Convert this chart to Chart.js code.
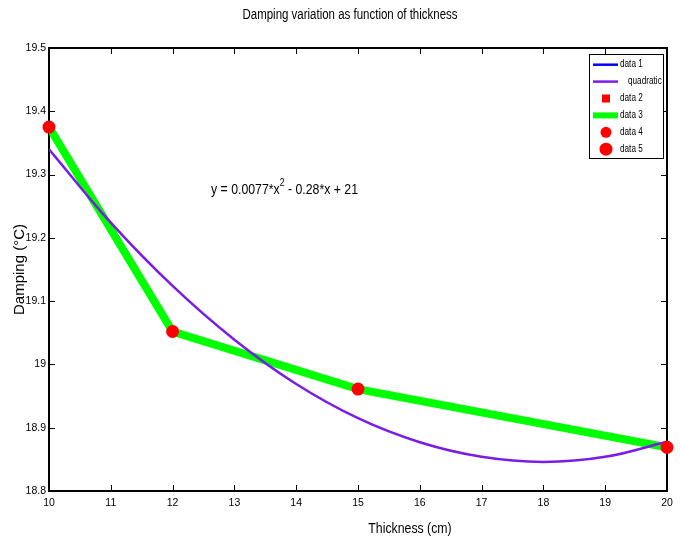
<!DOCTYPE html>
<html>
<head>
<meta charset="utf-8">
<title>Damping variation as function of thickness</title>
<script src="https://cdn.jsdelivr.net/npm/chart.js@4"></script>
<style>
  html, body { margin: 0; padding: 0; background: #fff; }
  #wrap { width: 680px; height: 539px; }
</style>
</head>
<body>
<div id="wrap"><canvas id="chart" width="680" height="539"></canvas></div>
<script>
// measured points (thickness in cm, damping)
const thickness = [10, 12, 15, 20];
const damping = [19.375, 19.052, 18.961, 18.869];

// quadratic fit curve
const fitX = [10, 11, 12, 13, 14, 15, 16, 17, 18, 19, 20];
const fitY = [19.340, 19.224, 19.124, 19.039, 18.969, 18.915, 18.877, 18.854, 18.846, 18.854, 18.878];

const xTicks = [10, 11, 12, 13, 14, 15, 16, 17, 18, 19, 20];
const yTicks = [18.8, 18.9, 19, 19.1, 19.2, 19.3, 19.4, 19.5];
const yTickLabels = ['18.8', '18.9', '19', '19.1', '19.2', '19.3', '19.4', '19.5'];

const seriesNames = ['data 1', 'quadratic', 'data 2', 'data 3', 'data 4', 'data 5'];
const chartTitle = 'Damping variation as function of thickness';
const xTitle = 'Thickness (cm)';
const yTitle = 'Damping (\u00B0C)';
const fitEquation = ['y = 0.0077*x', '2', ' - 0.28*x + 21'];

const SANS = "'Liberation Sans', Arial, sans-serif";
const SQUEEZE = 0.82;  // fake "Arial Narrow" by squeezing Liberation Sans

const pts = (xs, ys) => xs.map((x, i) => ({ x: x, y: ys[i] }));

// draw squeezed text, returns its drawn width
function narrowText(ctx, text, x, y, size, align) {
    ctx.save();
    ctx.font = size + 'px ' + SANS;
    ctx.textAlign = align || 'left';
    ctx.textBaseline = 'middle';
    ctx.translate(x, y);
    ctx.scale(SQUEEZE, 1);
    ctx.fillText(text, 0, 0);
    const w = ctx.measureText(text).width * SQUEEZE;
    ctx.restore();
    return w;
}

// frame + inward ticks on all four sides, MATLAB style
const boxAxes = {
    id: 'boxAxes',
    beforeDatasetsDraw(chart) {
        const { ctx, chartArea: a, scales } = chart;
        ctx.save();
        ctx.strokeStyle = '#000';
        ctx.lineWidth = 1;
        ctx.beginPath();
        xTicks.forEach(v => {
            const px = Math.round(scales.x.getPixelForValue(v)) + 0.5;
            ctx.moveTo(px, a.bottom); ctx.lineTo(px, a.bottom - 6);
            ctx.moveTo(px, a.top); ctx.lineTo(px, a.top + 6);
        });
        yTicks.forEach(v => {
            const py = Math.round(scales.y.getPixelForValue(v)) + 0.5;
            ctx.moveTo(a.left, py); ctx.lineTo(a.left + 6, py);
            ctx.moveTo(a.right, py); ctx.lineTo(a.right - 6, py);
        });
        ctx.stroke();
        ctx.lineWidth = 2;
        ctx.strokeRect(a.left, a.top, a.right - a.left, a.bottom - a.top);
        ctx.restore();
    },
    afterDraw(chart) {
        const { ctx } = chart;
        ctx.save();
        ctx.fillStyle = '#000';

        narrowText(ctx, chartTitle, 350, 15, 14, 'center');
        narrowText(ctx, xTitle, 410, 529, 15, 'center');

        // fit equation with superscript
        let ex = 211;
        ex += narrowText(ctx, fitEquation[0], ex, 190, 15);
        ex += narrowText(ctx, fitEquation[1], ex, 183, 10.5);
        narrowText(ctx, fitEquation[2], ex, 190, 15);

        // legend box
        const bx = 589, by = 54, bw = 74, bh = 104;
        ctx.fillStyle = '#fff';
        ctx.fillRect(bx, by, bw, bh);
        ctx.strokeStyle = '#000';
        ctx.lineWidth = 1;
        ctx.strokeRect(bx + 0.5, by + 0.5, bw, bh);

        chart.data.datasets.forEach((ds, i) => {
            const ry = 64.7 + i * 16.9;
            if (ds.showLine) {
                ctx.strokeStyle = ds.borderColor;
                ctx.lineWidth = ds.legendLineWidth || ds.borderWidth;
                ctx.beginPath();
                ctx.moveTo(593, ry);
                ctx.lineTo(618, ry);
                ctx.stroke();
            } else {
                ctx.fillStyle = ds.pointBackgroundColor;
                const r = ds.pointRadius;
                if (ds.pointStyle === 'rect') {
                    ctx.fillRect(606 - r, ry - r, 2 * r, 2 * r);
                } else {
                    ctx.beginPath();
                    ctx.arc(606, ry, r, 0, Math.PI * 2);
                    ctx.fill();
                }
            }
            ctx.fillStyle = '#000';
            narrowText(ctx, ds.label, 620 + (ds.legendIndent || 0), ry, 10);
        });
        ctx.restore();
    }
};

new Chart(document.getElementById('chart'), {
    type: 'scatter',
    data: {
        datasets: [
            {
                label: seriesNames[0],
                data: pts(thickness, damping),
                showLine: true,
                borderColor: '#0000ff',
                borderWidth: 2.5,
                pointRadius: 0,
                order: 5
            },
            {
                label: seriesNames[1],
                data: pts(fitX, fitY),
                showLine: true,
                borderColor: '#7a1ce8',
                borderWidth: 2.5,
                tension: 0.4,
                pointRadius: 0,
                legendIndent: 8,
                order: 3
            },
            {
                label: seriesNames[2],
                data: pts(thickness, damping),
                showLine: false,
                pointStyle: 'rect',
                pointRadius: 4,
                pointBackgroundColor: '#ff0000',
                pointBorderWidth: 0,
                clip: false,
                order: 2
            },
            {
                label: seriesNames[3],
                data: pts(thickness, damping),
                showLine: true,
                borderColor: '#00ff00',
                borderWidth: 8,
                legendLineWidth: 6,
                pointRadius: 0,
                order: 4
            },
            {
                label: seriesNames[4],
                data: pts(thickness, damping),
                showLine: false,
                pointStyle: 'circle',
                pointRadius: 5.5,
                pointBackgroundColor: '#ff0000',
                pointBorderWidth: 0,
                clip: false,
                order: 1
            },
            {
                label: seriesNames[5],
                data: pts(thickness, damping),
                showLine: false,
                pointStyle: 'circle',
                pointRadius: 6.5,
                pointBackgroundColor: '#ff0000',
                pointBorderWidth: 0,
                clip: false,
                order: 0
            }
        ]
    },
    options: {
        responsive: false,
        animation: false,
        devicePixelRatio: 1,
        layout: { padding: { top: 48, right: 13, bottom: 0, left: 0 } },
        plugins: {
            legend: { display: false },
            title: { display: false },
            tooltip: { enabled: false }
        },
        scales: {
            x: {
                type: 'linear',
                min: 10,
                max: 20,
                afterBuildTicks: s => { s.ticks = xTicks.map(v => ({ value: v })); },
                afterFit: s => { s.height = 48; },
                grid: { display: false, drawTicks: false },
                border: { display: false },
                ticks: {
                    padding: 6,
                    maxRotation: 0,
                    color: '#000',
                    font: { family: SANS, size: 10.5 },
                    callback: v => String(v)
                }
            },
            y: {
                type: 'linear',
                min: 18.8,
                max: 19.5,
                afterBuildTicks: s => { s.ticks = yTicks.map(v => ({ value: v })); },
                afterFit: s => { s.width = 49; },
                grid: { display: false, drawTicks: false },
                border: { display: false },
                ticks: {
                    padding: 3,
                    color: '#000',
                    font: { family: SANS, size: 10.5 },
                    callback: (v, i) => yTickLabels[i]
                },
                title: {
                    display: true,
                    text: yTitle,
                    color: '#000',
                    font: { family: SANS, size: 15 },
                    padding: { top: 11, bottom: 0 }
                }
            }
        }
    },
    plugins: [boxAxes]
});
</script>
</body>
</html>
